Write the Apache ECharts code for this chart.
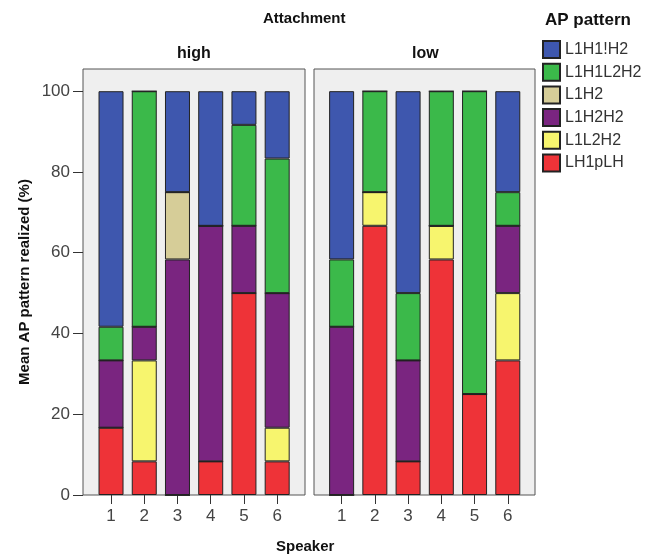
<!DOCTYPE html>
<html>
<head>
<meta charset="utf-8">
<script src="https://cdn.jsdelivr.net/npm/echarts@6/dist/echarts.min.js"></script>
<style>
  html, body { margin: 0; padding: 0; background: #fff; }
  #chart { width: 645px; height: 556px; }
</style>
</head>
<body>
<div id="chart"></div>
<script>
const speakers = ["1", "2", "3", "4", "5", "6"];
const yTicks = [0, 20, 40, 60, 80, 100];
// stacking order, bottom to top
const patterns = ["LH1pLH", "L1L2H2", "L1H2H2", "L1H2", "L1H1L2H2", "L1H1!H2"];
const legendOrder = ["L1H1!H2", "L1H1L2H2", "L1H2", "L1H2H2", "L1L2H2", "LH1pLH"];

// Attachment = high (% per speaker)
const highLH1pLH   = [16.67, 8.33, 0, 8.33, 50, 8.33];
const highL1L2H2   = [0, 25, 0, 0, 0, 8.33];
const highL1H2H2   = [16.67, 8.33, 58.33, 58.33, 16.67, 33.33];
const highL1H2     = [0, 0, 16.67, 0, 0, 0];
const highL1H1L2H2 = [8.33, 58.33, 0, 0, 25, 33.33];
const highL1H1iH2  = [58.33, 0, 25, 33.33, 8.33, 16.67];

// Attachment = low
const lowLH1pLH   = [0, 66.67, 8.33, 58.33, 25, 33.33];
const lowL1L2H2   = [0, 8.33, 0, 8.33, 0, 16.67];
const lowL1H2H2   = [41.67, 0, 25, 0, 0, 16.67];
const lowL1H2     = [0, 0, 0, 0, 0, 0];
const lowL1H1L2H2 = [16.67, 25, 16.67, 33.33, 75, 8.33];
const lowL1H1iH2  = [41.67, 0, 50, 0, 0, 25];

const highData = [highLH1pLH, highL1L2H2, highL1H2H2, highL1H2, highL1H1L2H2, highL1H1iH2];
const lowData = [lowLH1pLH, lowL1L2H2, lowL1H2H2, lowL1H2, lowL1H1L2H2, lowL1H1iH2];

const colors = {
  "LH1pLH": "#ee3338",
  "L1L2H2": "#f7f56e",
  "L1H2H2": "#7a2580",
  "L1H2": "#d6cd98",
  "L1H1L2H2": "#3bb94a",
  "L1H1!H2": "#3e57ae",
};

const FONT = "Liberation Sans, Arial, sans-serif";
const Y_MAX = 105.5;

const chart = echarts.init(document.getElementById("chart"));

// grids 0,1 = panel boxes (with the y scale), grids 2,3 = bar areas
const makeSeries = (rows, axisIdx) =>
  patterns.map((name, p) => ({
    name: name,
    type: "bar",
    stack: "panel" + axisIdx,
    xAxisIndex: axisIdx,
    yAxisIndex: axisIdx,
    barWidth: 25,
    data: rows[p],
    itemStyle: { color: colors[name], borderColor: "#222", borderWidth: 1 },
    emphasis: { disabled: true },
  }));

const boxX = (idx) => ({ type: "value", gridIndex: idx, show: false, min: 0, max: 1 });

const boxY = (idx) => ({
  type: "value",
  gridIndex: idx,
  min: 0,
  max: Y_MAX,
  axisLine: { show: false },
  splitLine: { show: false },
  axisTick: {
    show: idx === 0,
    customValues: yTicks,
    length: 10,
    lineStyle: { color: "#333" },
  },
  axisLabel: {
    show: idx === 0,
    customValues: yTicks,
    color: "#444",
    fontSize: 17,
    fontFamily: FONT,
    margin: 13,
  },
  name: idx === 0 ? "Mean AP pattern realized (%)" : "",
  nameLocation: "middle",
  nameGap: 51,
  nameTextStyle: { fontSize: 15, fontWeight: "bold", color: "#111", fontFamily: FONT },
});

const barX = (idx) => ({
  type: "category",
  gridIndex: idx,
  data: speakers,
  axisLine: { show: false },
  axisTick: { show: true, alignWithLabel: true, length: 9, lineStyle: { color: "#333" } },
  axisLabel: { color: "#444", fontSize: 17, fontFamily: FONT, margin: 13 },
});

const barY = (idx) => ({ type: "value", gridIndex: idx, show: false, min: 0, max: Y_MAX });

const option = {
  animation: false,
  grid: [
    { left: 83, top: 69, width: 222, height: 426, show: true, backgroundColor: "#efefef", borderColor: "#555", borderWidth: 1 },
    { left: 314, top: 69, width: 221, height: 426, show: true, backgroundColor: "#efefef", borderColor: "#555", borderWidth: 1 },
    { left: 94.4, top: 69, width: 199.4, height: 426 },
    { left: 325, top: 69, width: 199.4, height: 426 },
  ],
  xAxis: [boxX(0), boxX(1), barX(2), barX(3)],
  yAxis: [boxY(0), boxY(1), barY(2), barY(3)],
  legend: {
    data: legendOrder,
    orient: "vertical",
    left: 537,
    top: 35,
    itemWidth: 17,
    itemHeight: 17,
    itemGap: 3.7,
    icon: "rect",
    selectedMode: false,
    textStyle: { fontSize: 16, lineHeight: 17, color: "#333", fontFamily: FONT },
  },
  graphic: [
    { type: "text", left: 309 - 46, top: 11, style: { text: "Attachment", font: "bold 15px " + FONT, fill: "#111" } },
    { type: "text", left: 177, top: 46, style: { text: "high", font: "bold 16px " + FONT, fill: "#111" } },
    { type: "text", left: 412, top: 46, style: { text: "low", font: "bold 16px " + FONT, fill: "#111" } },
    { type: "text", left: 276, top: 539, style: { text: "Speaker", font: "bold 15px " + FONT, fill: "#111" } },
    { type: "text", left: 545, top: 12, style: { text: "AP pattern", font: "bold 17px " + FONT, fill: "#111" } },
  ],
  series: [...makeSeries(highData, 2), ...makeSeries(lowData, 3)],
};

chart.setOption(option);
</script>
</body>
</html>
